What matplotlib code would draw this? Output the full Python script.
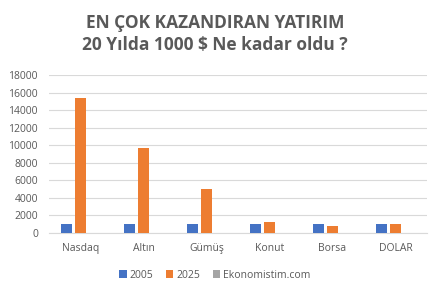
import numpy as np
import matplotlib.pyplot as plt

categories = ["Nasdaq", "Altın", "Gümüş", "Konut", "Borsa", "DOLAR"]
v2005 = [1000, 1000, 1000, 1000, 1000, 1000]
v2025 = [15400, 9700, 5000, 1300, 850, 1000]
vsite = [0, 0, 0, 0, 0, 0]
series = ["2005", "2025", "Ekonomistim.com"]
colors = ["#4472C4", "#ED7D31", "#A5A5A5"]

plt.rcParams["font.family"] = ["Open Sans", "DejaVu Sans"]
txt = "#595959"

fig = plt.figure(figsize=(4.3, 2.91), dpi=100)
ax = fig.add_axes([49/430, 1 - 233/291, 378/430, 158/291])

x = np.arange(len(categories))
w = 11/63
step = 14/63
for i, (vals, name) in enumerate(zip([v2005, v2025, vsite], series)):
    ax.bar(x + (i - 1) * step, vals, width=w, color=colors[i], label=name, zorder=3)

ax.set_xlim(-0.5, len(categories) - 0.5)
ax.set_ylim(0, 18000)
ax.set_yticks(range(0, 18001, 2000))
ax.set_xticks(x)
ax.set_xticklabels(categories)
ax.grid(axis="y", color="#D9D9D9", linewidth=0.8, zorder=0)
for s in ["top", "right", "left"]:
    ax.spines[s].set_visible(False)
ax.spines["bottom"].set_color("#D9D9D9")
ax.tick_params(axis="both", length=0, labelsize=7.5, colors=txt)
ax.tick_params(axis="y", pad=8)
ax.tick_params(axis="x", pad=7)

fig.text(0.5, 1 - 23/291, "EN ÇOK KAZANDIRAN YATIRIM", ha="center", va="center",
         fontsize=12.5, fontweight="bold", color=txt)
fig.text(0.5, 1 - 45/291, "20 Yılda 1000 $ Ne kadar oldu ?", ha="center", va="center",
         fontsize=12.5, fontweight="bold", color=txt)

fig.legend(loc="center", bbox_to_anchor=(0.5, 1 - 275/291), ncol=3, frameon=False,
           fontsize=7.5, handlelength=0.7, handleheight=0.7, handletextpad=0.3,
           columnspacing=1.2, labelcolor=txt)

fig.savefig("out.png", dpi=100)
